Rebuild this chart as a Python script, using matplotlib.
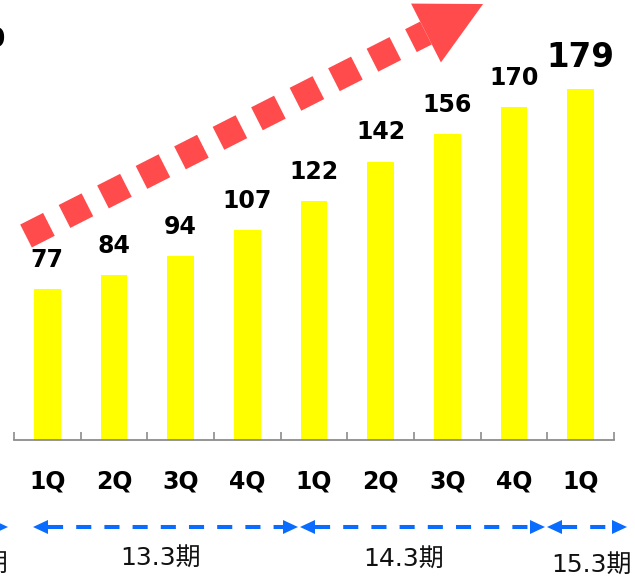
import math
import matplotlib
matplotlib.use("Agg")
import matplotlib.pyplot as plt
from matplotlib.patches import Polygon
from matplotlib.lines import Line2D
from matplotlib.transforms import blended_transform_factory

# ---- data ----
categories = ["1Q", "2Q", "3Q", "4Q", "1Q", "2Q", "3Q", "4Q", "1Q"]
values = [77, 84, 94, 107, 122, 142, 156, 170, 179]
periods = ["12.3期", "13.3期", "14.3期", "15.3期"]

W, H = 635, 576
fig = plt.figure(figsize=(W / 100, H / 100), dpi=100)

def fx(x):
    return x / W

def fy(y):
    return 1 - y / H

def pf(x, y):
    return (fx(x), fy(y))

# axes: x from 14px to 614px, baseline at 440px, top at 0px
ax = fig.add_axes([fx(14), fy(440), (614 - 14) / W, 440 / H])
ax.set_xlim(-0.5, len(categories) - 0.5)
ax.set_ylim(0, 440 / 1.96)
for s in ["top", "right", "left"]:
    ax.spines[s].set_visible(False)
ax.spines["bottom"].set_color("#8c8c8c")
ax.spines["bottom"].set_linewidth(1.3)
ax.set_yticks([])
ax.set_xticks([])
ax.set_xticks([i - 0.5 for i in range(len(categories) + 1)], minor=True)
ax.tick_params(axis="x", which="minor", direction="in", length=6,
               width=1.2, color="#8c8c8c")
ax.patch.set_alpha(0)

xs = list(range(len(categories)))
ax.bar(xs, values, width=0.4, color="#FFFF00", zorder=2)

for i, v in enumerate(values):
    big = i == len(values) - 1
    ax.annotate(str(v), (i, v), xytext=(0, 16), textcoords="offset points",
                ha="center", va="baseline", fontsize=23.5 if big else 17,
                fontweight="bold", color="black",
                family="DejaVu Sans")

trans = blended_transform_factory(ax.transData, fig.transFigure)
for i, c in enumerate(categories):
    ax.text(i, fy(488), c, transform=trans, ha="center", va="baseline",
            fontsize=17, fontweight="bold", family="DejaVu Sans",
            clip_on=False)

# ---- red dotted trend arrow ----
red = "#FF4B4B"
x0, y0 = 26, 236
x1, y1 = 426, 33
shaft = Line2D([fx(x0), fx(x1)], [fy(y0), fy(y1)], transform=fig.transFigure,
               color=red, linewidth=18.5, dashes=(1, 0.68),
               solid_capstyle="butt", dash_capstyle="butt", zorder=5)
fig.add_artist(shaft)
L = math.hypot(x1 - x0, y1 - y0)
dx, dy = (x1 - x0) / L, (y1 - y0) / L
px_, py_ = -dy, dx
hw, hl = 33, 64
head = Polygon([pf(x1 + px_ * hw, y1 + py_ * hw),
                pf(x1 - px_ * hw, y1 - py_ * hw),
                pf(x1 + dx * hl, y1 + dy * hl)],
               closed=True, transform=fig.transFigure, facecolor=red,
               edgecolor="none", zorder=5)
fig.add_artist(head)

# ---- blue period arrows ----
blue = "#0A6CFF"
ay = 527
spans = [(-60, 8), (33, 298), (300, 545), (547, 627)]
label_pos = [(8, 571, "right"), (161, 565, "center"),
             (404, 566, "center"), (591, 572, "center")]
ahl, ahw = 15, 7
for (a, b) in spans:
    line = Line2D([fx(a + ahl), fx(b - ahl)], [fy(ay), fy(ay)],
                  transform=fig.transFigure, color=blue, linewidth=2.9,
                  dashes=(3.75, 3.25), dash_capstyle="butt")
    fig.add_artist(line)
    for tip, sgn in ((a, 1), (b, -1)):
        tri = Polygon([pf(tip, ay), pf(tip + sgn * ahl, ay - ahw),
                       pf(tip + sgn * ahl, ay + ahw)], closed=True,
                      transform=fig.transFigure, facecolor=blue,
                      edgecolor="none")
        fig.add_artist(tri)

for (p, (x, y, ha)) in zip(periods, label_pos):
    fig.text(fx(x), fy(y), p, ha=ha, va="baseline", fontsize=18,
             family=["DejaVu Sans", "Noto Sans CJK JP"], color="#111111")

# partial label at top-left edge
fig.text(fx(5), fy(47), "0", ha="right", va="baseline", fontsize=19,
         fontweight="bold", family="DejaVu Sans")

fig.savefig("out.png", dpi=100)
